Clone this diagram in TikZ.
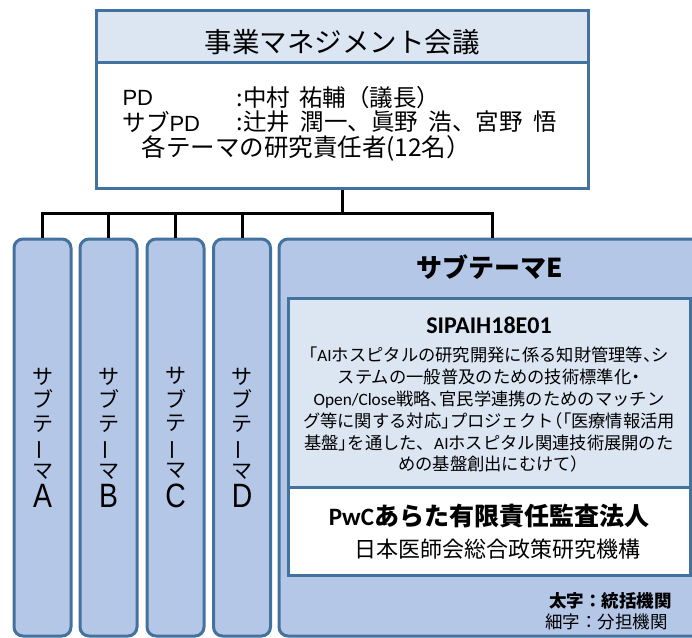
\documentclass[tikz,border=0pt]{standalone}
\usepackage{fontspec}
\setmainfont{Noto Sans CJK JP}
\newfontfamily\calib{Carlito}
\newfontfamily\arial{Liberation Sans}
\newfontfamily\palt[RawFeature=+palt]{Noto Sans CJK JP}
\usepackage{tikz}
\usetikzlibrary{positioning}

\definecolor{edgeblue}{HTML}{44729E}
\definecolor{fillblue}{HTML}{B4C7E7}
\definecolor{paleblue}{HTML}{DCE6F3}

\newcommand{\tatebar}{\rotatebox[origin=c]{90}{ー}}
\newcommand{\tateletter}[1]{{\arial\fontsize{27}{27}\selectfont\scalebox{1.05}[1.25]{#1}}}
\newcommand{\pk}[1]{{\palt #1}}

\begin{document}
\begin{tikzpicture}[x=1pt, y=-1pt, line width=3pt,
    box/.style={draw=edgeblue, line width=3pt, inner sep=0pt},
    subbox/.style={box, fill=fillblue, rounded corners=9pt, minimum width=57pt, minimum height=397pt,
        align=center, font=\fontsize{21}{23.5}\selectfont},
    txt/.style={inner sep=0pt, anchor=west, font=\fontsize{23.5}{26}\selectfont},
    conn/.style={draw=black, line width=3pt}]
	\useasboundingbox (0,0) rectangle (692,637);
	\clip (0,0) rectangle (692,637);

	% management meeting
	\node[box, fill=white, minimum width=492pt, minimum height=178pt] (mgmt) at (342,99) {};
	\node[box, fill=paleblue, minimum width=492pt, minimum height=52pt, below=0pt of mgmt.north] (mgmthead) {};
	\node[font=\fontsize{27.5}{30}\selectfont] (mgmttitle) at (342,42) {事業マネジメント会議};
	\node[txt] (pd) at (121,98) {\arial\fontsize{22}{26}\selectfont PD};
	\node[txt] (pdname) at (235,98) {:中村\hspace{0.4em}祐輔（議長）};
	\node[txt] (subpdname) at (235,122) {:辻井\hspace{0.45em}潤一、眞野\hspace{0.45em}浩、宮野\hspace{0.45em}悟};
	\node[txt] (subpd) at (121,122) {サブ{\arial\fontsize{22}{26}\selectfont PD}};
	\node[txt, font=\fontsize{24.5}{27}\selectfont] (leaders) at (140,148) {各テーマの研究責任者(12名）};

	% sub themes
	\node[subbox] (subA) at (42.5,437.5) {サ\\ブ\\テ\\\tatebar\\マ\\[4pt]\tateletter{A}};
	\node[subbox] (subB) at (108.5,437.5) {サ\\ブ\\テ\\\tatebar\\マ\\[4pt]\tateletter{B}};
	\node[subbox] (subC) at (175.5,437.5) {サ\\ブ\\テ\\\tatebar\\マ\\[4pt]\tateletter{C}};
	\node[subbox] (subD) at (242,437.5) {サ\\ブ\\テ\\\tatebar\\マ\\[4pt]\tateletter{D}};
	\node[box, fill=fillblue, rounded corners=9pt, minimum width=426pt, minimum height=397pt] (subE) at (492,437.5) {};
	\node[font=\bfseries\fontsize{26}{28}\selectfont] (subEtitle) at (490,267) {サブテーマE};

	% project box
	\node[box, fill=paleblue, minimum width=402pt, minimum height=189pt] (proj) at (489,392.5) {};
	\node[font=\calib\bfseries\fontsize{24}{26}\selectfont, inner sep=0pt] (projid) at (489,325) {SIPAIH18E01};
	\node[align=center, inner sep=0pt, font=\fontsize{17.3}{21.8}\selectfont] (projtext) at (489,410)
	    {\pk{「}{\calib AI}ホスピタルの研究開発に係る知財管理等\pk{、}シ\\
	     ステムの一般普及のための技術標準化\pk{・}\\
	     {\calib Open/Close}戦略\pk{、}官民学連携のためのマッチン\\
	     グ等に関する対応\pk{」}プロジェクト\pk{（「}医療情報活用\\
	     基盤\pk{」}を通した、{\calib AI}ホスピタル関連技術展開のた\\
	     めの基盤創出にむけて\pk{）}};
	\node[box, fill=white, minimum width=402pt, minimum height=88pt] (org) at (489,531) {};
	\node[font=\bfseries\fontsize{25}{27}\selectfont, inner sep=0pt] (leadorg) at (489,516) {{\calib PwC}あらた有限責任監査法人};
	\node[font=\fontsize{22}{24}\selectfont, inner sep=0pt] (suborg) at (497,549) {日本医師会総合政策研究機構};

	% legend
	\node[txt, anchor=east, font=\bfseries\fontsize{17.5}{20}\selectfont] (legbold) at (673,601) {太字：統括機関};
	\node[txt, anchor=east, font=\fontsize{17.5}{20}\selectfont] (legthin) at (669,622) {細字：分担機関};

	% connectors
	\coordinate (bus) at (342,213);
	\draw[conn] (mgmt.south) -- (bus);
	\draw[conn] (subA.north) |- (bus) -| (subE.north);
	\foreach \t in {B,C,D}
	    \draw[conn] (sub\t.north) -- (sub\t.north |- bus);
\end{tikzpicture}
\end{document}
